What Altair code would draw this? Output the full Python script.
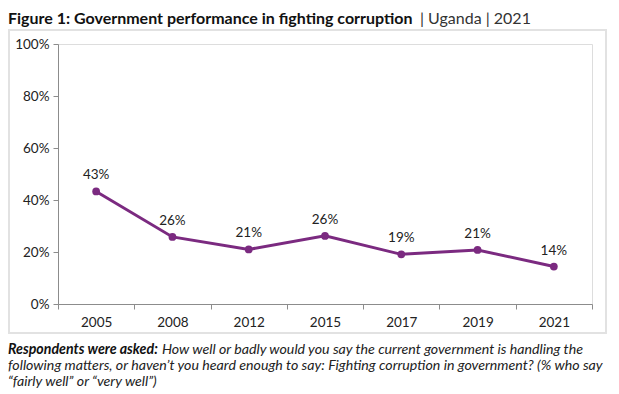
import altair as alt
import pandas as pd

years = ["2005", "2008", "2012", "2015", "2017", "2019", "2021"]
values = [43.3, 25.8, 21.0, 26.2, 19.1, 20.8, 14.4]
labels = ["43%", "26%", "21%", "26%", "19%", "21%", "14%"]
y_ticks = [0, 20, 40, 60, 80, 100]

title_bold = "Figure 1: Government performance in fighting corruption"
title_rest = "| Uganda | 2021"
cap_bold = "Respondents were asked:"
cap_line1 = "How well or badly would you say the current government is handling the"
cap_line2 = "following matters, or haven\u2019t you heard enough to say: Fighting corruption in government? (% who say"
cap_line3 = "\u201cfairly well\u201d or \u201cvery well\u201d)"

df = pd.DataFrame({"year": years, "value": values, "label": labels})

PURPLE = "#7B2A80"
FONT = "Lato"

x_enc = alt.X("year:O", bandPosition=0.5,
              scale=alt.Scale(type="band", paddingInner=0, paddingOuter=0),
              axis=alt.Axis(title=None, labelAngle=0, tickBand="extent", domainColor="#8c8c8c",
                            tickColor="#8c8c8c", tickSize=5, labelPadding=6, labelFontSize=13.5,
                            labelColor="#222222", labelFont=FONT))
y_enc = alt.Y("value:Q", scale=alt.Scale(domain=[0, 100]),
              axis=alt.Axis(title=None, values=y_ticks, labelExpr="datum.value + '%'", grid=False,
                            domainColor="#8c8c8c", tickColor="#8c8c8c", tickSize=5, labelPadding=4,
                            labelFontSize=13.5, labelColor="#222222", labelFont=FONT))

base = alt.Chart(df)

box = base.mark_rect(fill=None, stroke="#e2e2e2", strokeWidth=2).encode(
    x=alt.value(-49), x2=alt.value(548), y=alt.value(-14), y2=alt.value(289)
)

line = base.mark_line(color=PURPLE, strokeWidth=3).encode(x=x_enc, y=y_enc)
pts = base.mark_circle(color=PURPLE, size=60, opacity=1).encode(x=x_enc, y=y_enc)
txt = base.mark_text(baseline="bottom", dy=-9, fontSize=13.5, font=FONT, color="#222222").encode(
    x=x_enc, y=y_enc, text="label:N"
)

def static_text(s, x, y, **kw):
    return alt.Chart(pd.DataFrame({"t": [s]})).mark_text(align="left", baseline="alphabetic", **kw).encode(
        x=alt.value(x), y=alt.value(y), text="t:N"
    )

t1 = static_text(title_bold, -50, -20, font=FONT, fontSize=16, fontWeight="bold", color="#111111")
t2 = static_text(title_rest, 362, -20, font=FONT, fontSize=16, color="#333333")
c0 = static_text(cap_bold, -50, 310, font=FONT, fontSize=14.2, fontWeight="bold", fontStyle="italic", color="#111111")
c1 = static_text(cap_line1, 104, 310, font=FONT, fontSize=14.2, fontStyle="italic", color="#222222")
c2 = static_text(cap_line2, -50, 326, font=FONT, fontSize=14.2, fontStyle="italic", color="#222222")
c3 = static_text(cap_line3, -50, 342, font=FONT, fontSize=14.2, fontStyle="italic", color="#222222")

chart = alt.layer(box, line, pts, txt, t1, t2, c0, c1, c2, c3).properties(
    width=534, height=260,
    autosize=alt.AutoSizeParams(type="none"),
    padding={"left": 50, "top": 36, "right": 19, "bottom": 86},
).configure_view(stroke=None).configure(background="white")

chart.save("out.html", embed_options={"renderer": "svg", "actions": False})
